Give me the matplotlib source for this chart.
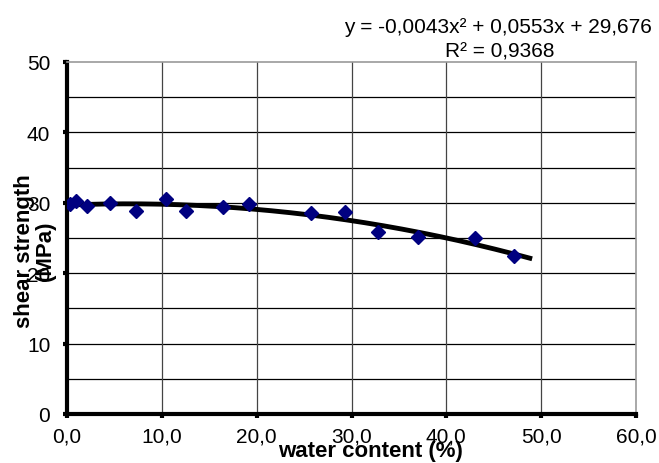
import numpy as np
import matplotlib.pyplot as plt

plt.rcParams['font.family'] = ['Liberation Sans', 'DejaVu Sans']

# measured points
water = [0.3, 0.9, 2.1, 4.5, 7.3, 10.4, 12.5, 16.4, 19.2, 25.7, 29.3, 32.8, 37.0, 43.0, 47.1]
shear = [29.8, 30.2, 29.5, 30.0, 28.9, 30.5, 28.9, 29.4, 29.8, 28.6, 28.7, 25.9, 25.1, 25.0, 22.4]

# polynomial trendline shown on the chart
coef = [-0.0043, 0.0553, 29.676]
trend_end = 48.8

x_ticks = [0, 10, 20, 30, 40, 50, 60]
x_labels = ['0,0', '10,0', '20,0', '30,0', '40,0', '50,0', '60,0']
y_ticks = [0, 10, 20, 30, 40, 50]

fig = plt.figure(figsize=(6.59, 4.64), dpi=100)
ax = fig.add_axes([67/659, 49/464, 569/659, 352/464])

# grid
for yv in np.arange(5, 50, 5):
    ax.axhline(yv, color='black', lw=0.9, zorder=1)
for xv in x_ticks[1:-1]:
    ax.axvline(xv, color='#444444', lw=0.9, zorder=1)

xs = np.linspace(0, trend_end, 200)
ax.plot(xs, np.polyval(coef, xs), color='black', lw=3.5, zorder=3)
ax.plot(water, shear, 'D', color='#000080', markersize=7, zorder=4)

ax.set_xlim(0, 60)
ax.set_ylim(0, 50)
ax.set_xticks(x_ticks)
ax.set_xticklabels(x_labels)
ax.set_yticks(y_ticks)
ax.tick_params(direction='out', length=3, width=3, labelsize=15)
ax.tick_params(axis='x', pad=6)
ax.tick_params(axis='y', pad=9)

ax.spines['left'].set_linewidth(3)
ax.spines['bottom'].set_linewidth(3)
ax.spines['right'].set_color('#999999')
ax.spines['top'].set_color('#999999')
ax.spines['right'].set_linewidth(1.2)
ax.spines['top'].set_linewidth(1.2)

fig.text(371/659, 7/464, 'water content (%)', ha='center', va='baseline',
         fontsize=16, fontweight='bold')
fig.text(35/659, 1 - 251/464, 'shear strength\n(MPa)', ha='center', va='center',
         rotation=90, fontsize=16, fontweight='bold', linespacing=0.95)

fig.text(498/659, 1 - 33/464, 'y = -0,0043x² + 0,0553x + 29,676',
         ha='center', va='baseline', fontsize=15)
fig.text(500/659, 1 - 57/464, 'R² = 0,9368',
         ha='center', va='baseline', fontsize=15)

fig.savefig('out.png', dpi=100)
